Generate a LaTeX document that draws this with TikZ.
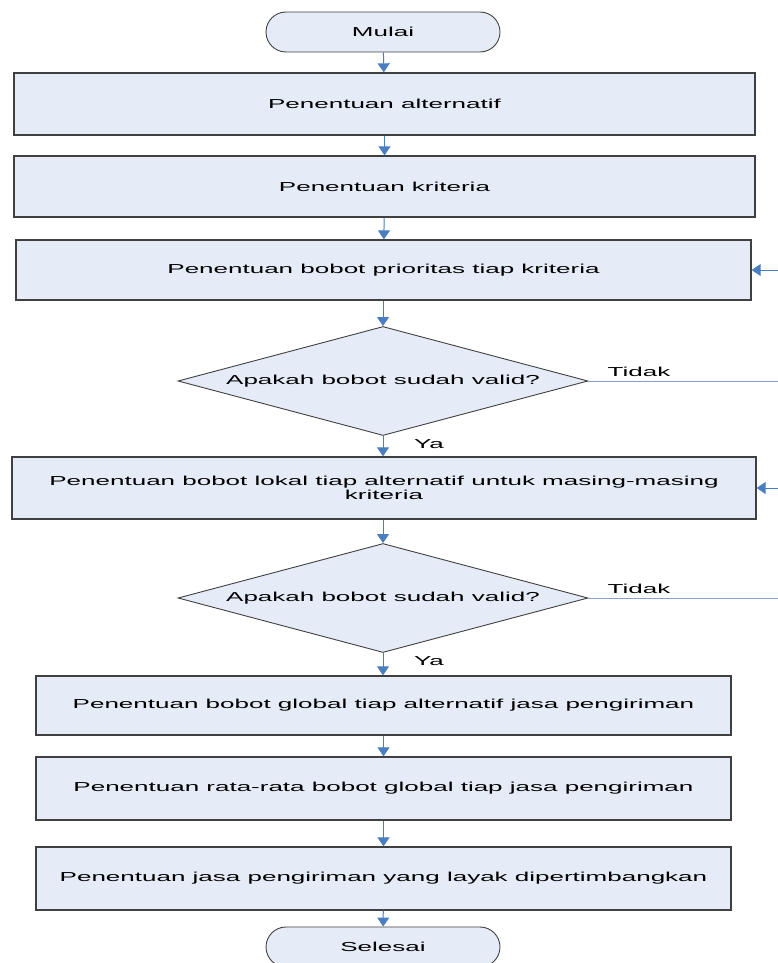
\documentclass[tikz,border=0pt]{standalone}
\usepackage{fontspec}
\setmainfont{Liberation Sans}[FakeStretch=2.0]
\usetikzlibrary{shapes.geometric,arrows.meta}
\definecolor{boxfill}{RGB}{230,236,247}
\definecolor{boxline}{RGB}{64,64,64}
\definecolor{arrowblue}{RGB}{74,126,193}
\definecolor{loopblue}{RGB}{130,160,210}
\tikzset{
  prosesbox/.style={draw=boxline,line width=1.3pt,fill=boxfill,inner sep=0pt,align=center},
  terminal/.style={draw=boxline,line width=0.9pt,fill=boxfill,rounded corners=20pt,
    minimum width=234pt,minimum height=40pt,inner sep=0pt},
  decision/.style={diamond,draw=boxline,line width=0.9pt,fill=boxfill,aspect=3.76,
    minimum width=410pt,minimum height=109pt,inner sep=0pt},
  alur/.style={draw=arrowblue,line width=1pt,-{Triangle[width=12pt,length=9pt]}},
  balik/.style={draw=loopblue,line width=0.9pt},
  lbl/.style={inner sep=0pt}
}
\begin{document}
\begin{tikzpicture}[x=1pt,y=-1pt,font=\fontsize{13}{14}\selectfont]
\useasboundingbox (0,0) rectangle (778,963);
% simbol mulai dan proses
\node[terminal] (mulai) at (383,32) {Mulai};
\node[prosesbox,minimum width=741pt,minimum height=62pt] (alt) at (384.5,104) {Penentuan alternatif};
\node[prosesbox,minimum width=741pt,minimum height=61pt] (krit) at (384.5,186.5) {Penentuan kriteria};
\node[prosesbox,minimum width=735pt,minimum height=60pt] (prio) at (383.5,270) {Penentuan bobot prioritas tiap kriteria};
\node[decision] (cek1) at (383,381) {Apakah bobot sudah valid?};
\node[prosesbox,minimum width=744pt,minimum height=62pt] (lokal) at (384,488) {Penentuan bobot lokal tiap alternatif untuk masing-masing\\kriteria};
\node[decision] (cek2) at (383,598) {Apakah bobot sudah valid?};
\node[prosesbox,minimum width=695pt,minimum height=59pt] (global) at (383.5,705.5) {Penentuan bobot global tiap alternatif jasa pengiriman};
\node[prosesbox,minimum width=695pt,minimum height=63pt] (rata) at (383.5,788.5) {Penentuan rata-rata bobot global tiap jasa pengiriman};
\node[prosesbox,minimum width=695pt,minimum height=63pt] (layak) at (383.5,878.5) {Penentuan jasa pengiriman yang layak dipertimbangkan};
\node[terminal] (selesai) at (383,947) {Selesai};
% label cabang
\node[lbl] (ya1) at (429,444) {Ya};
\node[lbl] (ya2) at (429,661) {Ya};
\node[lbl] (tidak1) at (639,372) {Tidak};
\node[lbl] (tidak2) at (639,589) {Tidak};
% ujung kanan
\coordinate (kanan1) at (778,381);
\coordinate (kanan2) at (778,598);
\coordinate (masuk1) at (778,270);
\coordinate (masuk2) at (778,488);
% alur
\draw[alur] (mulai) -- (alt);
\draw[alur] (alt) -- (krit);
\draw[alur] (krit) -- (prio);
\draw[alur] (prio.south -| cek1.north) -- (cek1);
\draw[alur] (cek1) -- (lokal.north -| cek1.south);
\draw[alur] (lokal.south -| cek2.north) -- (cek2);
\draw[alur] (cek2) -- (global.north -| cek2.south);
\draw[alur] (global) -- (rata);
\draw[alur] (rata) -- (layak);
\draw[alur] (layak) -- (selesai);
\draw[balik] (cek1.east) -- (kanan1);
\draw[balik] (cek2.east) -- (kanan2);
\draw[alur] (masuk1) -- (prio.east);
\draw[alur] (masuk2) -- (lokal.east);
\end{tikzpicture}
\end{document}
